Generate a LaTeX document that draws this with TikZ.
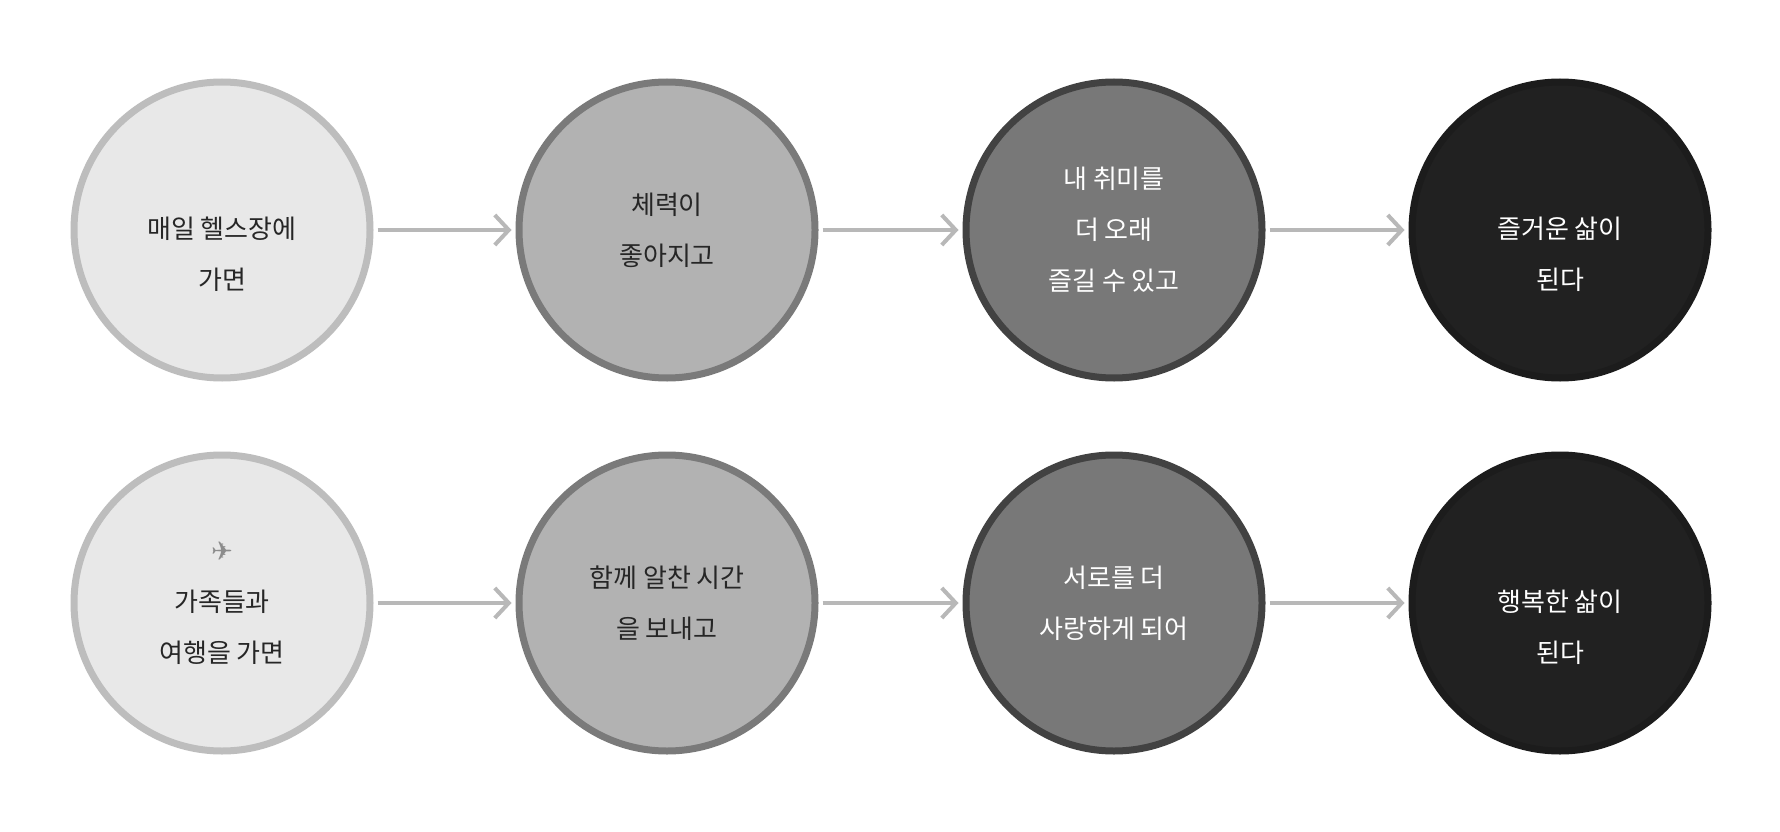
\documentclass[tikz,border=0pt]{standalone}
\usepackage{fontspec}
\setmainfont{Noto Sans CJK KR}
\newfontfamily\dv{DejaVu Sans}
\usetikzlibrary{arrows.meta}
\begin{document}
\begin{tikzpicture}[x=1pt,y=-1pt,
 c/.style={circle,minimum size=296pt,inner sep=0pt,line width=7pt,align=center,font=\fontsize{26}{51}\selectfont},
 c1/.style={c,fill=black!9,draw=black!26,text=black!85},
 c2/.style={c,fill=black!30,draw=black!52,text=black!85},
 c3/.style={c,fill=black!53,draw=black!74,text=white},
 c4/.style={c,fill=black!87,draw=black!89,text=white},
 ar/.style={draw=black!28,line width=4pt,-{Straight Barb[length=14pt,width=30pt,line width=4pt]}}]
\useasboundingbox[fill=white] (0,0) rectangle (1780,832);
\node[c1] (a1) at (222,230) {\phantom{X}\\매일 헬스장에\\가면};
\node[c2] (a2) at (667,230) {체력이\\좋아지고};
\node[c3] (a3) at (1114,230) {내 취미를\\더 오래\\즐길 수 있고};
\node[c4] (a4) at (1560,230) {\phantom{X}\\즐거운 삶이\\된다};
\node[c1] (b1) at (222,603) {{\dv\color{black!45}✈}\\가족들과\\여행을 가면};
\node[c2] (b2) at (667,603) {함께 알찬 시간\\을 보내고};
\node[c3] (b3) at (1114,603) {서로를 더\\사랑하게 되어};
\node[c4] (b4) at (1560,603) {\phantom{X}\\행복한 삶이\\된다};
\foreach \r in {a,b}{
 \draw[ar] (\r1.east)++(4,0) -- ([xshift=-4pt]\r2.west);
 \draw[ar] (\r2.east)++(4,0) -- ([xshift=-4pt]\r3.west);
 \draw[ar] (\r3.east)++(4,0) -- ([xshift=-4pt]\r4.west);}
\end{tikzpicture}
\end{document}
